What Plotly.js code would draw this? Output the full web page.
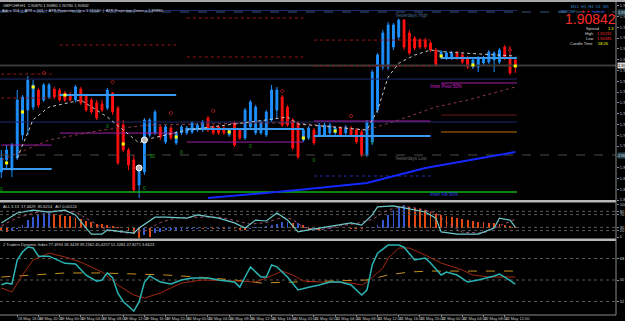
<!DOCTYPE html>
<html><head><meta charset="utf-8">
<script src="https://cdn.plot.ly/plotly-3.0.1.min.js"></script>
<style>html,body{margin:0;padding:0;background:#000;}#chart{width:625px;height:321px;}</style>
</head><body><div id="chart"></div>
<script>
// ---------- DATA ----------
const bars = [1,2,3,4,5,6,7,8,9,10,11,12,13,14,15,16,17,18,19,20,21,22,23,24,25,26,27,28,29,30,31,32,33,34,35,36,37,38,39,40,41,42,43,44,45,46,47,48,49,50,51,52,53,54,55,56,57,58,59,60,61,62,63,64,65,66,67,68,69,70,71,72,73,74,75,76,77,78,79,80,81,82,83,84,85,86,87,88,89,90,91,92,93,94,95,96,97,98];
const open = [1.89954,1.90054,1.89970,1.90070,1.90262,1.90470,1.90495,1.90637,1.90554,1.90579,
1.90645,1.90637,1.90612,1.90595,1.90554,1.90645,1.90587,1.90554,1.90529,1.90520,
1.90487,1.90612,1.90487,1.90345,1.90137,1.90054,1.89845,1.89954,1.90262,1.90279,
1.90329,1.90204,1.90320,1.90195,1.90279,1.90279,1.90287,1.90304,1.90304,1.90404,
1.90329,1.90329,1.90320,1.90262,1.90362,1.90304,1.90237,1.90329,1.90279,1.90279,
1.90262,1.90387,1.90470,1.90579,1.90495,1.90387,1.90362,1.90220,1.90237,1.90304,
1.90262,1.90262,1.90279,1.90279,1.90320,1.90279,1.90320,1.90304,1.90287,1.90095,
1.90204,1.90470,1.90829,1.90829,1.90995,1.91079,1.91220,1.91112,1.91070,1.91054,
1.91054,1.91029,1.90970,1.90912,1.90904,1.90904,1.90945,1.90929,1.90904,1.90829,
1.90829,1.90862,1.90870,1.90887,1.90870,1.90995,1.90904,1.90887];
const high = [1.90137,1.90179,1.90195,1.90637,1.90595,1.90754,1.90720,1.90654,1.90695,1.90695,
1.90662,1.90654,1.90629,1.90620,1.90679,1.90662,1.90604,1.90570,1.90554,1.90554,
1.90654,1.90620,1.90504,1.90387,1.90154,1.90095,1.90012,1.90404,1.90404,1.90470,
1.90345,1.90345,1.90337,1.90295,1.90345,1.90337,1.90379,1.90362,1.90387,1.90420,
1.90345,1.90345,1.90337,1.90320,1.90379,1.90320,1.90487,1.90554,1.90512,1.90387,
1.90470,1.90679,1.90662,1.90595,1.90512,1.90404,1.90379,1.90320,1.90337,1.90320,
1.90362,1.90362,1.90362,1.90337,1.90337,1.90345,1.90337,1.90320,1.90304,1.90387,
1.90804,1.90945,1.91137,1.91204,1.91195,1.91231,1.91228,1.91137,1.91087,1.91070,
1.91070,1.91045,1.90987,1.90970,1.90962,1.90962,1.90962,1.90945,1.90920,1.90904,
1.90920,1.90920,1.90970,1.90962,1.90987,1.91012,1.91004,1.90904];
const low = [1.89904,1.89970,1.89912,1.90054,1.90220,1.90262,1.90470,1.90487,1.90537,1.90562,
1.90562,1.90537,1.90537,1.90537,1.90537,1.90512,1.90454,1.90437,1.90387,1.90454,
1.90470,1.90429,1.90012,1.90120,1.89970,1.89779,1.89737,1.89929,1.90245,1.90262,
1.90220,1.90187,1.90220,1.90179,1.90262,1.90262,1.90270,1.90287,1.90287,1.90287,
1.90262,1.90262,1.90262,1.90245,1.90162,1.90220,1.90220,1.90312,1.90262,1.90262,
1.90245,1.90370,1.90404,1.90329,1.90329,1.90137,1.90062,1.90204,1.90220,1.90179,
1.90245,1.90245,1.90262,1.90262,1.90245,1.90262,1.90245,1.90187,1.90079,1.90079,
1.90179,1.90445,1.90804,1.90804,1.90970,1.91054,1.90970,1.90929,1.90970,1.90979,
1.90979,1.90954,1.90829,1.90895,1.90887,1.90887,1.90887,1.90854,1.90812,1.90812,
1.90787,1.90845,1.90854,1.90787,1.90854,1.90887,1.90762,1.90779];
const close = [1.90070,1.90137,1.90179,1.90554,1.90579,1.90720,1.90679,1.90512,1.90679,1.90679,
1.90579,1.90554,1.90554,1.90554,1.90662,1.90529,1.90470,1.90454,1.90404,1.90470,
1.90637,1.90454,1.90029,1.90137,1.90012,1.89804,1.89987,1.90387,1.90387,1.90454,
1.90245,1.90329,1.90237,1.90279,1.90329,1.90320,1.90362,1.90345,1.90370,1.90304,
1.90279,1.90279,1.90279,1.90304,1.90179,1.90237,1.90470,1.90537,1.90495,1.90370,
1.90454,1.90637,1.90637,1.90345,1.90345,1.90154,1.90079,1.90304,1.90320,1.90195,
1.90345,1.90345,1.90345,1.90320,1.90262,1.90329,1.90262,1.90204,1.90095,1.90370,
1.90787,1.90929,1.91112,1.91179,1.91179,1.91220,1.90995,1.90945,1.90987,1.90995,
1.90995,1.90970,1.90845,1.90954,1.90945,1.90945,1.90904,1.90870,1.90829,1.90887,
1.90904,1.90904,1.90954,1.90945,1.90970,1.90904,1.90779,1.90842];

// moving averages on price
const emaBars = [4,7,10,16,21,27,28,36,51,55,57,70,72,74,76,79,82,85,98];
const emaVals = [1.90070,1.90390,1.90495,1.90553,1.90412,1.90195,1.90220,1.90303,1.90387,1.90412,1.90353,1.90303,1.90470,1.90745,1.90860,1.90928,1.90970,1.90953,1.90920];
const slowBars = [1,10,20,29,48,57,70,76,83,89,98];
const slowVals = [1.90053,1.90220,1.90303,1.90345,1.90362,1.90362,1.90303,1.90387,1.90495,1.90553,1.90662];
const trendBars = [40,57,70,81,98];
const trendVals = [1.89737,1.89803,1.89862,1.89987,1.90120];

// daily levels
const dayStart = [1,12,36,60,84];
const dayEnd = [10.5,34,58,82,98.3];
const pivotRedStart = [1,1,12,36,36,60,60];
const pivotRedEnd = [10.5,10.5,34,58,58,82,82];
const pivotRedVals = [1.90770,1.90570,1.91012,1.91237,1.90912,1.91053,1.90837];
const innerBlueVals = [1.89978,1.90595,1.90312,1.90253,1.90903];
const innerPurpleVals = [1.90178,1.90278,1.90203,1.90378,1.90695];
const longNavyVals = [1.91299,1.90728,1.90370];
const greenLevel = 1.89787;
const yHigh = 1.91287, yLow = 1.90095, lastPrice = 1.90842;
const day5RedLevel = 1.90428, day5OrangeLevel = 1.90287, day4BlueDot = 1.89920;

// markers
const yellowBars = [2,5,7,13,24,34,44,58,64,84,90,98];
const yellowVals = [1.90029,1.90454,1.90662,1.90595,1.90187,1.90245,1.90287,1.90237,1.90295,1.90920,1.90845,1.90837];
const greenMarkBars = [1,21,28,35,48,60,71,29.5];
const greenMarkVals = [1.89804,1.90329,1.89812,1.90112,1.90162,1.90045,1.90195,1.90079];
const greenMarkText = ['0','0','0','0','0','0','0','50'];
const fractalBars = [9,22,33,41,54,67,97];
const fractalVals = [1.90779,1.90704,1.90445,1.90462,1.90629,1.90420,1.90970];
const circleBars = [27,28];
const circleVals = [1.89987,1.90220];

// oscillator panel
const histBase = 27;
const hist = [22,17,18,24,37,53,63,70,74,74,
71,69,67,66,60,56,50,46,42,40,
37,35,31,29,19,8,-2,6,1,11,
17,22,22,23,23,24,25,26,25,26,
25,26,25,26,25,23,22,26,31,31,
35,37,40,46,46,43,43,37,22,24,
22,25,26,28,29,28,26,25,24,29,
31,37.5,53,69,84,95,100,95,90,87,
84,77,71,69,66,62.5,58,56,53,50,
48,46,44,43,40,37.5,35,32];
const stochBars = [1,4,7,10,13,15,17,18,20,21,26,27,30,32,36,38,42,45,47,49,51,53,55,57,59,61,67,69,71,72,75,77,81,83,84,87,91,94,95,97,98];
const stochK = [44,75,84,78,84,69,28,9,9,22,12,28,62,62,59,69,59,44,28,53,50,75,53,16,22,28,44,37,69,94,97,91,78,59,16,9,9,28,59,53,31];
const stochDBars = [1,4,8,12,15,18,21,25,28,31,34,38,42,45,48,51,54,56,58,61,65,68,71,74,77,80,83,85,88,92,95,98];
const stochD = [35,60,78,82,78,50,20,12,18,45,60,62,62,52,40,45,62,55,30,22,35,42,55,85,96,88,75,45,15,12,35,55];
const oscLevels = [20,30,70,80];

// TDI panel
const tdiBars = [1,2,3,4,5,6,7,8,10,12,13,15,17,19,20,21,22,23,24,26,27,28,29,31,33,35,37,40,42,45,46,47,48,50,51,52,53,55,57,59,61,63,65,67,69,70,71,72,74,76,77,79,80,81,82,84,85,87,89,91,94,95,96,98];
const tdiPrice = [46,47.5,46.6,66.8,73.5,77.6,76.8,70,70,66,64,63.4,54,49,50,56,52,39,32,24,31.6,48,53.4,48.3,46.6,50,51.7,51.7,50,48.3,44,52.5,61,52.5,52.5,62.6,61,52.5,41.6,44,45.8,48.3,48.3,45.8,37.4,41.6,62.6,72.5,79.3,79.3,77.5,66.8,67.5,68.4,64.2,54.2,56.7,54.2,48.3,50,53.4,55,52.5,46.6];
const sigBars = [1,3,5,7,10,13,16,20,23,26,28,31,35,39,45,49,51,54,56,58,61,67,69,70,73,74,76,78,81,84,88,90,93,95,98];
const tdiSignal = [43.3,40,54.2,66.8,72.6,69.3,65,56.7,45.8,37.4,34.9,39.1,47.5,50,49.2,48.3,51.7,57.5,54.2,49.2,48.3,47.5,45.8,48.3,60,68.4,76.8,76.8,70.9,64.2,58.4,54.2,52.5,52.5,52.5];
const baseBars = [1,7,13,20,26,32,38,45,50,56,61,70,74,78,82,89,98];
const tdiBase = [52.5,54.2,55.9,55.9,55,54.2,52.5,50,47.5,48.3,49.2,50,54.2,56.7,57.5,57.5,57.5];
const tdiLevels = [32,50,68];

// time axis
const timeTicks = [4,8,12,16,20,24,28,32,36,40,44,48,52,56,60,64,68,72,76,80,84,88,92,96];
const timeLabels = ['18 May 16:00','18 May 20:00','19 May 00:00','19 May 04:00','19 May 08:00','19 May 12:00','19 May 16:00','19 May 20:00','20 May 00:00','20 May 04:00','20 May 08:00','20 May 12:00','20 May 16:00','20 May 20:00','21 May 00:00','21 May 04:00','21 May 08:00','21 May 12:00','21 May 16:00','21 May 20:00','22 May 00:00','22 May 04:00','22 May 08:00','22 May 12:00'];

// ---------- BUILD ----------
const XR = [0.75, 117];
const F = 'Liberation Sans, Arial, sans-serif';
function segs(starts, ends, vals){
  const x=[], y=[];
  for(let i=0;i<vals.length;i++){ x.push(starts[i], ends[i], null); y.push(vals[i], vals[i], null); }
  return {x, y};
}
function lineTrace(s, color, width, dash, yaxis){
  return {type:'scatter', mode:'lines', x:s.x, y:s.y, line:{color, width, dash:dash||'solid'}, yaxis:yaxis||'y', hoverinfo:'skip', connectgaps:false, showlegend:false};
}
const traces = [];
traces.push(lineTrace(segs([XR[0]],[XR[1]],[yHigh]), '#3c5678', 1, 'dash'));
traces.push(lineTrace(segs([XR[0]],[XR[1]],[yLow]), '#4a4a4a', 1, 'dash'));
traces.push(lineTrace(segs([XR[0]],[XR[1]],[lastPrice]), '#3a3a3a', 2));
traces.push(lineTrace(segs([XR[0],XR[0],XR[0]],[98.3,98.3,98.3],longNavyVals), '#1e2c6e', 1));
traces.push(lineTrace(segs([XR[0]],[98.3],[greenLevel]), '#12b012', 1.5));
traces.push(lineTrace(segs(pivotRedStart,pivotRedEnd,pivotRedVals), '#9a1616', 1, 'dot'));
traces.push(lineTrace(segs(dayStart,dayEnd,innerPurpleVals), '#a020a8', 1));
traces.push(lineTrace(segs([84],[98.3],[day5RedLevel]), '#701818', 1));
traces.push(lineTrace(segs([84],[98.3],[day5OrangeLevel]), '#c07010', 1));
traces.push(lineTrace(segs([60],[82],[day4BlueDot]), '#2030b0', 1, 'dot'));
traces.push(lineTrace(segs(dayStart,dayEnd,innerBlueVals), '#3a9af0', 2));
traces.push({type:'scatter',mode:'lines',x:slowBars,y:slowVals,line:{color:'#8a3848',width:1,dash:'dot'},hoverinfo:'skip',showlegend:false});
traces.push({type:'scatter',mode:'lines',x:emaBars,y:emaVals,line:{color:'#c8c8c8',width:1,dash:'dot'},hoverinfo:'skip',showlegend:false});
traces.push({type:'scatter',mode:'lines',x:trendBars,y:trendVals,line:{color:'#1428ff',width:2},hoverinfo:'skip',showlegend:false});
traces.push({type:'candlestick', x:bars, open, high, low, close,
  increasing:{line:{color:'#1e90ff',width:1},fillcolor:'#1e90ff'},
  decreasing:{line:{color:'#ff1010',width:1},fillcolor:'#ff1010'},
  whiskerwidth:0, hoverinfo:'skip', showlegend:false});
traces.push({type:'scatter',mode:'markers',x:yellowBars,y:yellowVals,marker:{symbol:'square',size:3,color:'#ffff00'},hoverinfo:'skip',showlegend:false});
traces.push({type:'scatter',mode:'markers',x:circleBars,y:circleVals,marker:{symbol:'circle',size:6,color:'#b8b8b8',line:{color:'#ffffff',width:1}},hoverinfo:'skip',showlegend:false});
traces.push({type:'scatter',mode:'text',x:greenMarkBars,y:greenMarkVals,text:greenMarkText,textfont:{family:F,size:5,color:'#1a9a1a'},hoverinfo:'skip',showlegend:false});
traces.push({type:'scatter',mode:'markers',x:fractalBars,y:fractalVals,marker:{symbol:'diamond-open',size:3,color:'#a01818',line:{width:1}},hoverinfo:'skip',showlegend:false});

const histColors = hist.map((v,i)=> (i>0 && v>=hist[i-1]) ? '#3558d0' : '#e04a12');
traces.push({type:'bar', x:bars, y:hist.map(v=>v-histBase), base:histBase, width:0.35, marker:{color:histColors,line:{width:0}}, yaxis:'y2', hoverinfo:'skip', showlegend:false});
oscLevels.forEach(l=>traces.push(lineTrace(segs([XR[0]],[XR[1]],[l]), '#5a5a5a', 1, 'dot', 'y2')));
traces.push({type:'scatter',mode:'lines',x:stochDBars,y:stochD,line:{color:'#a05070',width:1,dash:'dot'},yaxis:'y2',hoverinfo:'skip',showlegend:false});
traces.push({type:'scatter',mode:'lines',x:stochBars,y:stochK,line:{color:'#6cc8c8',width:1.2},yaxis:'y2',hoverinfo:'skip',showlegend:false});

tdiLevels.forEach(l=>traces.push(lineTrace(segs([XR[0]],[XR[1]],[l]), '#5a5a5a', 1, 'dot', 'y3')));
traces.push({type:'scatter',mode:'lines',x:baseBars,y:tdiBase,line:{color:'#c8901e',width:1,dash:'dash'},yaxis:'y3',hoverinfo:'skip',showlegend:false});
traces.push({type:'scatter',mode:'lines',x:sigBars,y:tdiSignal,line:{color:'#a02a10',width:1},yaxis:'y3',hoverinfo:'skip',showlegend:false});
traces.push({type:'scatter',mode:'lines',x:tdiBars,y:tdiPrice,line:{color:'#2ab4b4',width:1.5},yaxis:'y3',hoverinfo:'skip',showlegend:false});

const W=625, H=321;
const px = v => v/W, py = v => 1 - v/H;
const tiny = {family:F,size:4,color:'#d8d8d8'};
const ann = [];
function A(x,y,text,font,xanchor,extra){ ann.push(Object.assign({xref:'paper',yref:'paper',x:px(x),y:py(y),text,font,xanchor:xanchor||'left',yanchor:'middle',showarrow:false,borderpad:0},extra||{})); }
A(2,5,'GBPCHF,H1  1.90870 1.90880 1.90780 1.90842',tiny);
A(1,10,'Adr = 114  |  ATR = 101  |  ATR Projection Up = 1.91040  |  ATR Projection Down = 1.89880',tiny);
A(2,206,'ALL 3.13  17.4429  85.6214   AO 0.00124',tiny);
A(2,244,'2 Traders Dynamic Index 77.4994 58.3428 39.2362 45.4257 51.3284 47.8271 3.6623',tiny);
A(611,6,'M15  H1  H4  D1  W1',{family:F,size:4,color:'#3a8ad0'},'right');
A(577,11,'GBPCHF',{family:F,size:4,color:'#3a8ad0'},'right');
A(580,11,'<span style="color:#ff2020">+</span> <span style="color:#ff2020">+</span> <span style="color:#2040ff">+</span> <span style="color:#2040ff">+</span> <span style="color:#2040ff">+</span>',{family:F,size:6,color:'#2040ff'},'left');
A(617,19,'1.90842',{family:F,size:14,color:'#ff2a2a'},'right');
A(600,28.5,'Spread',tiny,'right'); A(607,28.5,'1.3',{family:F,size:4,color:'#ffff00'});
A(594,33.5,'High',tiny,'right'); A(596,33.5,'1.91231',{family:F,size:4,color:'#ff2a2a'});
A(594,38.5,'Low',tiny,'right'); A(596,38.5,'1.90185',{family:F,size:4,color:'#ff2a2a'});
A(594,43.5,'Candle Time',tiny,'right'); A(597,43.5,'58:26',{family:F,size:4,color:'#ffff00'});
ann.push({xref:'x',yref:'y',x:75,y:1.91262,text:'Yesterdays High',font:{family:F,size:4.5,color:'#4a6a8a'},xanchor:'left',showarrow:false});
ann.push({xref:'x',yref:'y',x:75,y:1.90070,text:'Yesterdays Low',font:{family:F,size:4.5,color:'#6a6a6a'},xanchor:'left',showarrow:false});
ann.push({xref:'x',yref:'y',x:81.5,y:1.90670,text:'Inner Pivot 50%',font:{family:F,size:4.5,color:'#d020d0'},xanchor:'left',showarrow:false});
ann.push({xref:'x',yref:'y',x:81.5,y:1.89762,text:'Inner Fib 50%',font:{family:F,size:4.5,color:'#3050ff'},xanchor:'left',showarrow:false});
ann.push({xref:'paper',yref:'y',x:px(617),y:lastPrice,text:'1.90842',font:{family:F,size:4,color:'#000'},bgcolor:'#d8d8d8',xanchor:'left',showarrow:false,borderpad:0});
ann.push({xref:'paper',yref:'y',x:px(617),y:yHigh,text:'1.91287',font:{family:F,size:4,color:'#ddd'},bgcolor:'#2a4a58',xanchor:'left',showarrow:false,borderpad:0});
ann.push({xref:'paper',yref:'y',x:px(617),y:yLow,text:'1.90095',font:{family:F,size:4,color:'#ddd'},bgcolor:'#2a4a58',xanchor:'left',showarrow:false,borderpad:0});

const shapes = [
  {type:'rect',xref:'paper',yref:'paper',x0:0,x1:1,y0:py(2),y1:1,fillcolor:'#a8a8a8',line:{width:0}},
  {type:'rect',xref:'paper',yref:'paper',x0:0,x1:px(616),y0:py(202.5),y1:py(200),fillcolor:'#b8b8b8',line:{width:0}},
  {type:'rect',xref:'paper',yref:'paper',x0:0,x1:px(616),y0:py(241),y1:py(238.5),fillcolor:'#b8b8b8',line:{width:0}},
  {type:'line',xref:'paper',yref:'paper',x0:px(616),x1:px(616),y0:py(315),y1:py(2),line:{color:'#8a8a8a',width:1}},
  {type:'line',xref:'paper',yref:'paper',x0:0,x1:px(616),y0:py(315),y1:py(315),line:{color:'#8a8a8a',width:1}}
];

const axY = {side:'right',showgrid:false,zeroline:false,showline:false,ticks:'outside',ticklen:2,tickcolor:'#8a8a8a',tickfont:{family:F,size:4,color:'#c8c8c8'},anchor:'x',fixedrange:true};
const layout = {
  width:W,height:H,margin:{l:0,r:0,t:0,b:0},paper_bgcolor:'#000',plot_bgcolor:'#000',
  showlegend:false,hovermode:false,boxgap:0.5,bargap:0,
  xaxis:{domain:[0,px(616)],range:XR,anchor:'y3',showgrid:false,zeroline:false,showline:false,
    rangeslider:{visible:false},tickmode:'array',tickvals:timeTicks,ticktext:timeLabels,
    ticks:'outside',ticklen:2,tickcolor:'#8a8a8a',ticklabelposition:'outside right',
    tickfont:{family:F,size:4,color:'#c8c8c8'},tickangle:0,fixedrange:true},
  yaxis:Object.assign({},axY,{domain:[py(200),py(3)],range:[1.89720,1.91362],tickmode:'linear',tick0:1.908,dtick:0.0009,tickformat:'.5f'}),
  yaxis2:Object.assign({},axY,{domain:[py(238),py(203)],range:[-3.1,106.2],tickmode:'array',tickvals:[0,20,30,70,80,100]}),
  yaxis3:Object.assign({},axY,{domain:[py(314),py(241)],range:[21.5,82.7],tickmode:'array',tickvals:tdiLevels}),
  shapes, annotations:ann
};
Plotly.newPlot('chart', traces, layout, {staticPlot:true,displayModeBar:false});
</script></body></html>
